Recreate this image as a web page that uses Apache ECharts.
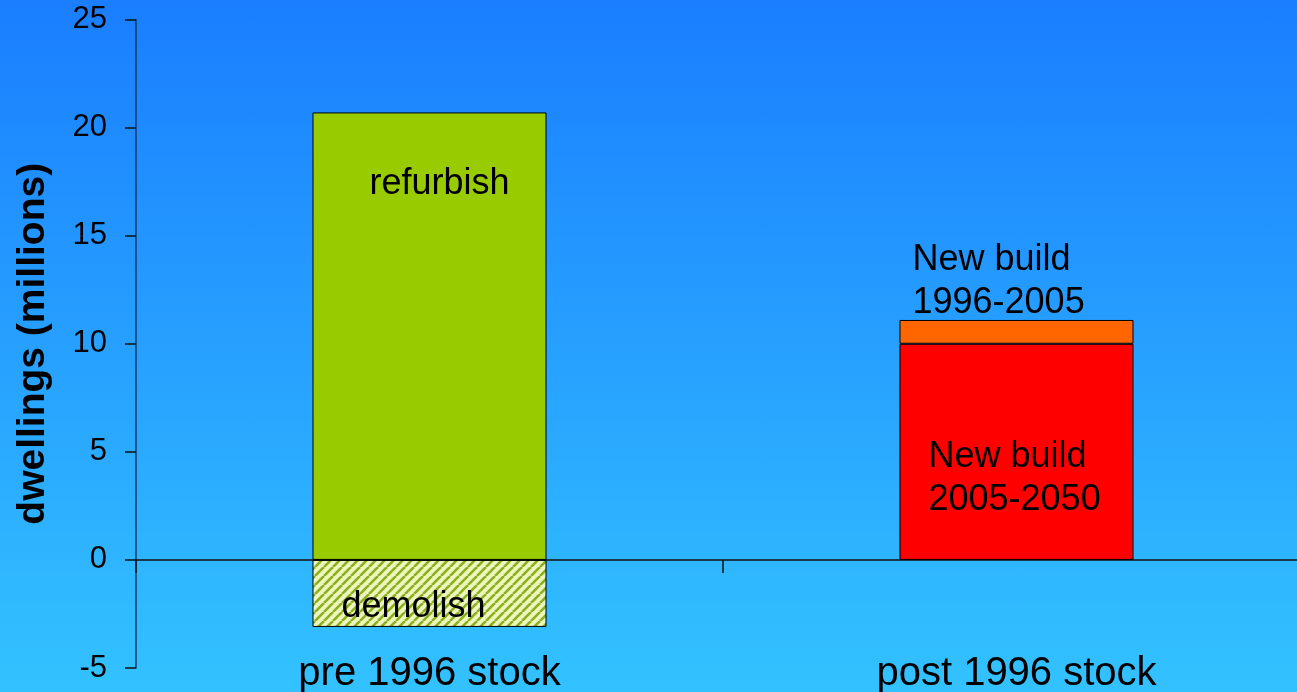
<!DOCTYPE html>
<html>
<head>
<meta charset="utf-8">
<script src="https://cdn.jsdelivr.net/npm/echarts@6/dist/echarts.min.js"></script>
<style>
  body { margin: 0px; padding: 0px; }
  #chart {
    width: 1297px;
    height: 692px;
    background: linear-gradient(to bottom, #1a7eff 0%, #33c2ff 100%);
  }
</style>
</head>
<body>
<div id="chart"></div>
<script>
// categories and values (millions of dwellings)
const categories = ["pre 1996 stock", "post 1996 stock"];
const refurbish = [20.7, null];
const demolish = [-3.1, null];
const newBuild2005 = [null, 10.0];
const newBuild1996 = [null, 1.1];
const yTicks = [-5, 0, 5, 10, 15, 20, 25];

// hatch pattern for the demolish bar
function makeHatch() {
  const c = document.createElement("canvas");
  c.width = 9;
  c.height = 9;
  const ctx = c.getContext("2d");
  ctx.fillStyle = "#eef6c0";
  ctx.fillRect(0, 0, 9, 9);
  ctx.strokeStyle = "#8cb01c";
  ctx.lineWidth = 2.6;
  for (let k = -9; k <= 18; k += 9) {
    ctx.beginPath();
    ctx.moveTo(k, 9);
    ctx.lineTo(k + 9, 0);
    ctx.stroke();
  }
  return c;
}

const font = "Liberation Sans, Arial, sans-serif";
const labelFont = {
  color: "#000",
  fontFamily: font,
  fontSize: 36,
  lineHeight: 43,
};

const chart = echarts.init(document.getElementById("chart"));
chart.setOption({
  backgroundColor: "transparent",
  animation: false,
  grid: { left: 136, right: -13, top: 19.5, bottom: 24, outerBoundsMode: "none", containLabel: false },
  xAxis: [
    {
      type: "category",
      data: categories,
      axisLine: { show: false, onZero: false },
      axisTick: { show: false },
      axisLabel: {
        color: "#000",
        fontSize: 40,
        fontFamily: font,
        margin: -14,
        verticalAlign: "top",
      },
    },
    {
      type: "category",
      data: categories,
      position: "bottom",
      axisLine: { onZero: true, lineStyle: { color: "#111", width: 1.5 } },
      axisTick: { show: true, length: 13, lineStyle: { color: "#111", width: 1.5 } },
      axisLabel: { show: false },
    },
  ],
  yAxis: {
    type: "value",
    min: yTicks[0],
    max: yTicks[yTicks.length - 1],
    interval: 5,
    name: "dwellings (millions)",
    nameLocation: "middle",
    nameGap: 83,
    nameTextStyle: {
      color: "#000",
      fontSize: 39,
      fontWeight: "bold",
      fontFamily: font,
    },
    axisLine: { show: true, lineStyle: { color: "#1a3a66", width: 1.5 } },
    axisTick: { show: true, length: 11, lineStyle: { color: "#111", width: 1.5 } },
    axisLabel: {
      color: "#000",
      fontSize: 31,
      fontFamily: font,
      margin: 29,
    },
    splitLine: { show: false },
  },
  series: [
    {
      name: "refurbish",
      type: "bar",
      stack: "s",
      barWidth: 234,
      data: refurbish,
      itemStyle: { color: "#99cc00", borderColor: "#000", borderWidth: 1 },
      label: {
        show: true,
        position: "inside",
        formatter: "refurbish",
        offset: [10, -152],
        ...labelFont,
      },
    },
    {
      name: "demolish",
      type: "bar",
      stack: "s",
      barWidth: 234,
      data: demolish,
      itemStyle: {
        color: { image: makeHatch(), repeat: "repeat" },
        borderColor: "#000",
        borderWidth: 1,
      },
      label: {
        show: true,
        position: "inside",
        formatter: "demolish",
        offset: [-16, 14],
        ...labelFont,
      },
    },
    {
      name: "New build 2005-2050",
      type: "bar",
      stack: "s",
      barWidth: 234,
      data: newBuild2005,
      itemStyle: { color: "#ff0000", borderColor: "#000", borderWidth: 1 },
      label: {
        show: true,
        position: "inside",
        formatter: "New build\n2005-2050",
        align: "left",
        offset: [-88, 27],
        ...labelFont,
      },
    },
    {
      name: "New build 1996-2005",
      type: "bar",
      stack: "s",
      barWidth: 234,
      data: newBuild1996,
      itemStyle: { color: "#ff6600", borderColor: "#000", borderWidth: 1 },
      label: {
        show: true,
        position: "inside",
        formatter: "New build\n1996-2005",
        align: "left",
        offset: [-104, -50],
        ...labelFont,
      },
    },
  ],
});
</script>
</body>
</html>
